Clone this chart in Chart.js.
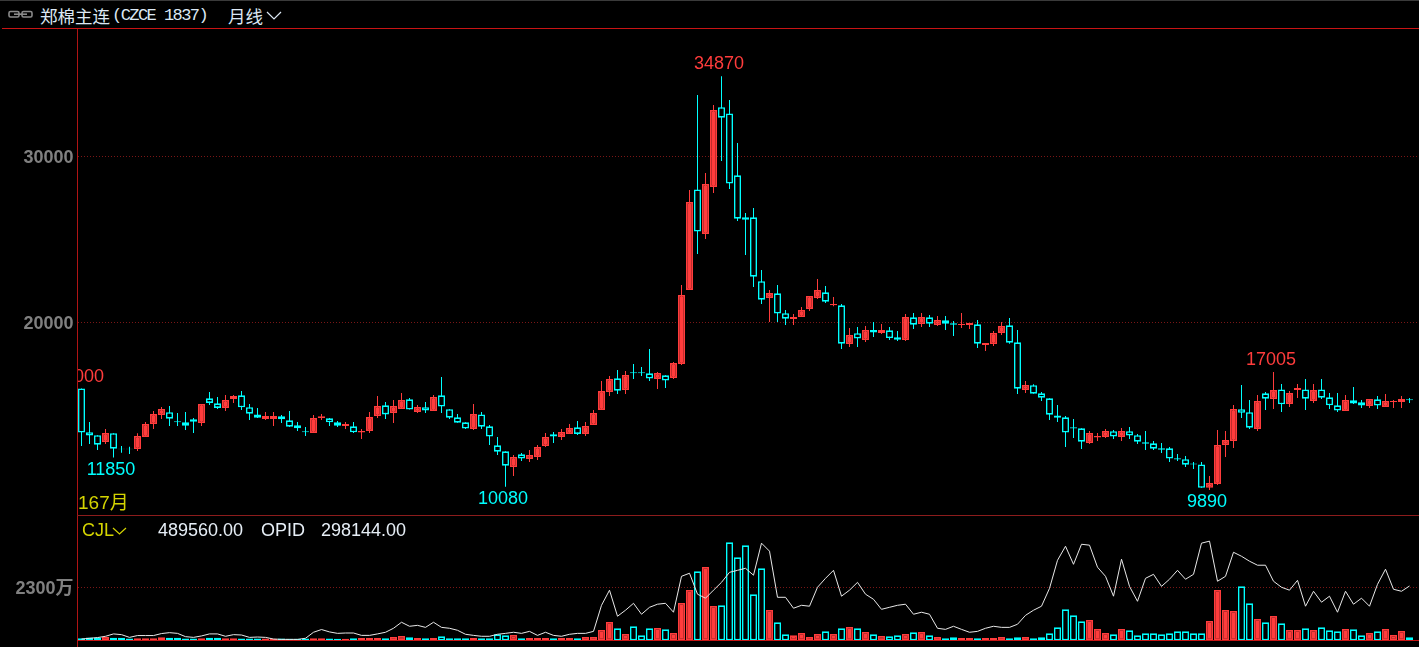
<!DOCTYPE html>
<html><head><meta charset="utf-8">
<script src="https://cdn.jsdelivr.net/npm/chart.js@4"></script>
<style>
html,body{margin:0;padding:0;background:#000;width:1419px;height:647px;overflow:hidden}
canvas{position:absolute;left:0;display:block}
.t{position:absolute;white-space:pre;line-height:1;font-family:"Liberation Sans",sans-serif}
.l{position:absolute}
</style></head><body>
<canvas id="price" width="1419" height="486" style="top:29px"></canvas>
<canvas id="volume" width="1419" height="131" style="top:516px"></canvas>
<div class="l" style="left:0;top:0;width:1419px;height:1px;background:#3a3a3a"></div>
<div class="l" style="left:2px;top:28px;width:1417px;height:1px;background:#c81414"></div>
<div class="l" style="left:77px;top:29px;width:1px;height:618px;background:#b01414"></div>
<div class="l" style="left:77px;top:515px;width:1342px;height:1px;background:#8c1c1c"></div>
<div class="l" style="left:77px;top:640px;width:1342px;height:1px;background:#c81414"></div>
<svg class="l" style="left:8px;top:10px" width="25" height="9"><g fill="none" stroke="#8a8a8a" stroke-width="1.6"><rect x="1" y="1.5" width="10" height="5.5" rx="1.5"/><rect x="14" y="1.5" width="10" height="5.5" rx="1.5"/><path d="M6 4.2H19"/></g></svg>
<div class="t" id="title" style="left:40px;top:7px;color:#dce8f4;font-size:17.5px;font-family:'Noto Sans CJK SC'"></div>
<div class="t" id="code" style="left:112px;top:7px;color:#dce8f4;font-size:17px;font-family:'Liberation Mono';letter-spacing:-1.55px"></div>
<div class="t" id="period" style="left:228px;top:7px;color:#dce8f4;font-size:17.5px;font-family:'Noto Sans CJK SC'"></div>
<svg class="l" style="left:266px;top:11px" width="16" height="9"><path d="M1 1L8 8L15 1" fill="none" stroke="#dce8f4" stroke-width="1.2"/></svg>
<div class="t" id="count" style="left:78px;top:493px;color:#d4d400;font-size:19px;font-family:'Liberation Sans','Noto Sans CJK SC'"></div>
<div class="t" id="cjl" style="left:82px;top:521px;color:#d4d400;font-size:18px"></div>
<svg class="l" style="left:112px;top:527px" width="15" height="8"><path d="M1 1L7.5 7L14 1" fill="none" stroke="#d4d400" stroke-width="1.2"/></svg>
<div class="t" id="cjlv" style="left:158px;top:521px;color:#e6eef6;font-size:18px"></div>
<div class="t" id="opl" style="left:261px;top:521px;color:#e6eef6;font-size:18px"></div>
<div class="t" id="opv" style="left:321px;top:521px;color:#e6eef6;font-size:18px"></div>
<script>
const titleText="郑棉主连", codeText="(CZCE 1837)", periodText="月线", countText="167月";
const cjlLabel="CJL", cjlValue="489560.00", opidLabel="OPID", opidValue="298144.00";
const priceTicks=[20000,30000];
const volumeTicks=[2300];

const open=[16020,13370,13190,12780,13310,12380,12380,12360,13090,13870,
14410,14580,14030,13970,14150,13930,15420,15120,14840,15380,
15600,14880,14450,14170,14170,14330,14090,13790,13430,13330,
14230,14210,13970,13750,13730,13350,13450,14350,15000,14530,
14780,15360,14600,14880,14660,15600,14760,14270,13970,13570,
14450,13730,12580,12220,11270,12040,11760,11880,12540,13250,
13090,13270,13670,13270,13810,14720,15800,16630,15920,16990,
16990,16930,16590,16810,16650,17500,21970,28040,25350,28190,
33000,32630,28890,26350,26350,22490,21480,21760,20560,20210,
20330,20820,21480,21820,21040,21040,18700,19350,18940,19550,
19370,19530,19110,18940,20310,19910,20310,19850,20130,19950,
19850,19850,19890,18640,18700,19370,19830,18800,15920,16210,
15720,15420,14390,14270,13670,13610,12720,13050,13090,13430,
13090,13430,13190,12760,12700,12400,12400,11800,11740,11490,
11430,10020,10250,12600,12840,14760,14580,13570,15720,15380,
15960,15080,15920,15960,15260,15960,15480,15000,14660,15300,
15180,14960,15360,14900,15200,15200,15360];
const close=[13350,13170,12620,13330,12380,12340,12340,13150,13870,14470,
14780,14190,13970,13770,14010,15080,15140,14840,15320,15560,
14880,14490,14250,14350,14350,14150,13710,13610,13370,14230,
14330,13970,13770,13870,13370,13450,14290,14960,14450,14960,
15320,14740,14900,14680,15500,14920,14250,13950,13590,14470,
13710,13110,12200,11350,11880,11780,12000,12480,13090,13110,
13390,13630,13270,13750,14530,15860,16590,15880,16830,16930,
16930,16610,16950,16490,17550,21660,27280,25490,28370,32840,
32370,28390,26270,26210,22770,21380,21780,20540,20230,20330,
20760,21600,21970,21260,21120,18720,19250,19030,19550,19390,
19550,19060,18960,20330,19870,20330,19930,20150,19930,19870,
19910,19970,18720,18760,19370,19790,18780,16000,16230,15700,
15460,14430,14250,13350,13590,12800,13330,13150,13450,13110,
13450,13170,12800,12680,12380,12320,11780,11720,11410,11430,
10020,10310,12600,12900,14780,14550,13650,15260,15400,15920,
15060,15740,16040,15400,15920,15460,15000,14680,15320,15100,
14980,15380,14980,15260,15260,15380,15300];
const high=[16020,13990,13190,13570,13310,12540,12500,13310,13990,14660,
14900,14960,14530,14600,14230,15080,15800,15500,15620,15620,
15860,15080,14840,14600,14600,14410,14660,13990,13690,14410,
14470,14230,14050,13990,13990,13570,14600,15560,15200,15320,
15740,15440,15020,15200,15620,16710,14760,14470,13970,15080,
14600,13810,13090,12220,12000,12120,12300,12600,13330,13390,
13570,13870,14050,13990,14720,16470,16770,17130,17070,17490,
17310,18400,17010,16810,17610,22270,28000,33740,29030,33140,
34870,33440,30840,26620,26920,23170,21970,22270,20760,20520,
20940,21600,22630,22210,21540,21120,19670,19730,19790,20030,
19910,19730,19490,20510,20570,20570,20450,20390,20390,20090,
20570,19970,20150,18760,19490,20030,20270,19550,16470,16270,
15800,15420,15020,14350,14170,13610,13450,13330,13570,13510,
13630,13690,13270,13450,12840,12720,12480,12060,11940,11580,
11580,10730,13510,13450,15020,16230,15320,15620,15800,17005,
16290,15860,16290,16590,16290,16590,15740,15740,15620,16110,
15320,15380,15560,15680,15320,15560,15440];
const low=[12540,12660,12300,12660,11850,12140,12060,12240,13090,13570,
14170,13750,13750,13510,13330,13750,15020,14780,14660,15140,
14720,14110,14230,14110,13750,13930,13690,13450,13150,13330,
14110,13750,13690,13570,13330,12960,13330,14230,14170,13930,
14780,14740,14530,14530,14660,14530,14170,13950,13570,13510,
13570,12600,12000,10080,10730,11640,11580,11700,12480,12720,
12900,13270,13210,13150,13810,14720,15560,15680,15680,16590,
16770,16470,15980,16040,16590,17440,21970,24140,25050,27820,
29760,28060,26130,24080,22150,21120,20030,20030,19850,19850,
20330,20700,21420,21180,20980,18400,18520,18520,18820,19130,
19310,18940,18880,18880,19610,19730,19730,19790,19550,19190,
19670,19610,18460,18280,18580,19250,18720,15680,15740,15700,
15260,14110,13990,12480,13030,12360,12660,12840,13030,12960,
12840,12960,12660,12300,12300,12120,11580,11640,11270,11150,
10020,9890,10190,11880,12420,14230,13570,13450,14720,14780,
14600,14900,15440,14720,15140,15380,14780,14600,14660,15080,
14840,14840,14780,14900,14840,14840,15140];
// volume in units of 10,000 lots (万)
const volume=[85,120,120,150,115,115,80,85,85,85,
130,115,115,75,80,85,110,110,90,85,
75,75,80,80,65,80,65,65,80,85,
85,80,65,65,87,101,101,101,87,145,
188,130,101,87,101,174,87,87,87,101,
87,87,260,217,232,87,101,101,101,87,
101,101,87,145,145,449,796,521,275,608,
217,521,535,478,318,1621,2185,2995,3183,1490,
1519,4254,3603,4124,1997,3126,1317,781,260,217,
318,145,275,391,275,521,579,521,362,260,
188,174,217,275,347,362,217,145,87,130,
101,101,87,101,101,145,87,130,145,87,
130,304,564,1346,1085,825,883,492,318,260,
492,434,217,304,304,260,304,391,391,304,
304,839,2185,1317,1273,2344,1606,926,781,1056,
738,449,449,521,449,564,434,391,492,478,
217,318,391,492,232,405,130];
// open interest in thousands of lots
const opid=[7,11,15,22,35,31,16,26,26,26,
37,42,38,20,16,24,35,35,22,31,
29,16,18,16,7,5,5,5,11,44,
59,46,38,40,40,27,27,35,44,66,
99,77,82,71,99,71,66,55,33,27,
22,22,33,38,44,38,49,27,44,27,
22,33,38,38,49,192,275,132,165,203,
143,181,198,203,154,351,368,253,231,275,
318,373,384,395,357,533,489,236,236,176,
192,187,291,340,384,242,275,318,253,225,
170,181,192,198,143,154,143,66,60,77,
60,44,49,66,77,71,71,88,137,165,
187,285,439,516,417,527,522,401,351,242,
445,296,214,340,362,296,335,384,335,362,
533,544,324,351,483,461,434,412,412,324,
291,275,329,187,269,209,242,154,269,198,
231,187,307,390,280,269,298];

const extremeIndex=[0,4,53,80,141,149];
const extremeValue=[16000,11850,10080,34870,9890,17005];
const extremeAbove=[true,false,false,true,false,true];

const RED='#ff3c3c',CYAN='#00ffff',BG='#000000',GRID='#7a1616',AXIS='#808080';
document.getElementById('title').textContent=titleText;
document.getElementById('code').textContent=codeText;
document.getElementById('period').textContent=periodText;
document.getElementById('count').textContent=countText;
document.getElementById('cjl').textContent=cjlLabel;
document.getElementById('cjlv').textContent=cjlValue;
document.getElementById('opl').textContent=opidLabel;
document.getElementById('opv').textContent=opidValue;

const down=close.map((c,i)=>c<open[i]);
const col=down.map(d=>d?CYAN:RED);
const fill=down.map(d=>d?BG:RED);
const xScale={type:'linear',display:false,offset:false,min:-0.5,max:167.1875};
function yAxis(min,max,ticks,fmt){return {
  position:'left',min,max,
  afterFit(s){s.width=77.5;s.paddingTop=0;s.paddingBottom=0;s.paddingLeft=0;s.paddingRight=0;},
  afterBuildTicks(s){s.ticks=ticks.map(v=>({value:v}));},
  border:{display:false,dash:[1,2]},
  grid:{color:GRID,lineWidth:1,drawTicks:false},
  ticks:{color:AXIS,padding:4,labelOffset:1.5,autoSkip:false,font:{family:"'Liberation Sans','Noto Sans CJK SC'",size:18,weight:'bold'},callback:fmt}
};}
const barBase={grouped:false,borderSkipped:false,inflateAmount:0};
const commonOpts={responsive:false,animation:false,events:[],layout:{padding:0},plugins:{legend:{display:false},tooltip:{enabled:false}}};

const labelPlugin={id:'extremes',afterDatasetsDraw(c){
  const g=c.ctx,a=c.chartArea;
  g.save();g.beginPath();g.rect(a.left,0,a.right-a.left,c.height);g.clip();
  g.font="18px 'Liberation Sans'";g.textAlign='center';g.textBaseline='middle';
  extremeIndex.forEach((ix,k)=>{
    g.fillStyle=extremeAbove[k]?RED:CYAN;
    const y=c.scales.y.getPixelForValue(extremeValue[k])+(extremeAbove[k]?-12:12.5);
    g.fillText(String(extremeValue[k]),c.scales.x.getPixelForValue(ix)-2.5,y);
  });
  g.restore();
}};

new Chart(document.getElementById('price'),{type:'bar',plugins:[labelPlugin],
 data:{datasets:[
  {...barBase,order:2,barThickness:1,borderWidth:0,backgroundColor:col,
   data:high.map((h,i)=>({x:i,y:[low[i],h]}))},
  {...barBase,order:1,barThickness:7,borderWidth:1.6,borderColor:col,backgroundColor:fill,
   data:open.map((o,i)=>({x:i,y:[o,close[i]]}))}
 ]},
 options:{...commonOpts,scales:{x:xScale,y:yAxis(8373,37727,priceTicks,v=>String(v))}}
});

new Chart(document.getElementById('volume'),{type:'bar',
 data:{datasets:[
  {type:'line',order:0,yAxisID:'y1',borderColor:'#e8e8e8',borderWidth:1,pointRadius:0,tension:0,
   data:opid.map((v,i)=>({x:i,y:v}))},
  {...barBase,order:1,barThickness:7,borderWidth:1.6,borderColor:col,backgroundColor:fill,
   data:volume.map((v,i)=>({x:i,y:v}))}
 ]},
 options:{...commonOpts,layout:{padding:{bottom:6.7}},scales:{x:xScale,
   y:yAxis(0,5395,volumeTicks,v=>v+'万'),
   y1:{display:false,min:0,max:682}}}
});
</script>
</body></html>
